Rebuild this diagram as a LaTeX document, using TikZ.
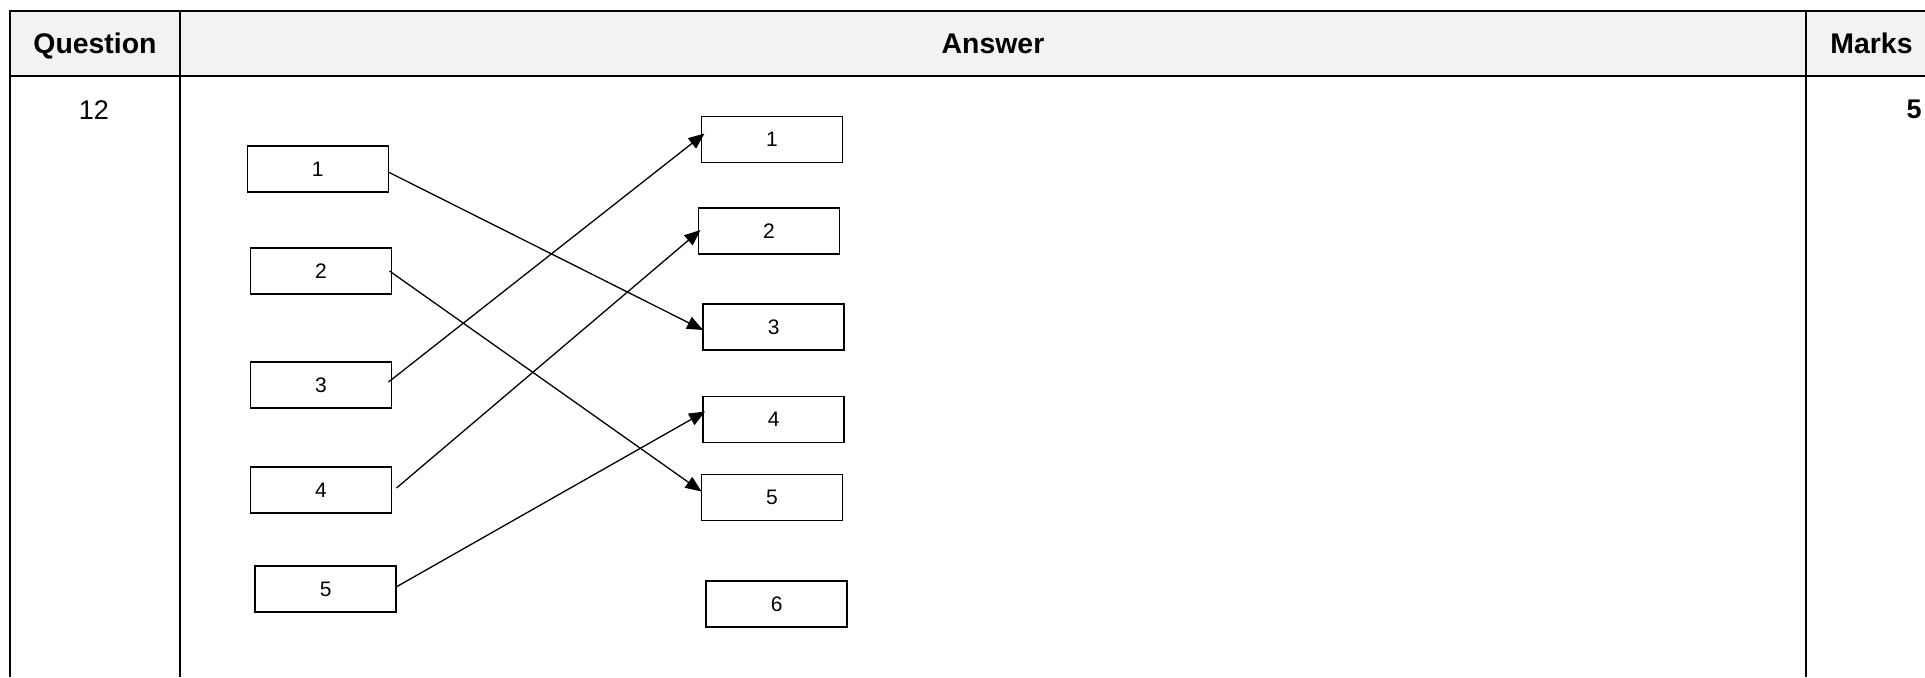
\documentclass[tikz,border=0pt]{standalone}
\usepackage{fontspec}
\setmainfont{Liberation Sans}
\usetikzlibrary{arrows.meta}
\definecolor{hdr}{HTML}{F2F2F2}
\begin{document}
\begin{tikzpicture}[x=0.5pt,y=-0.5pt,
  frame/.style={line width=1.1pt},
  numbox/.style={draw, line width=0.75pt, minimum width=70.5pt, minimum height=23pt, inner sep=0pt, outer sep=0pt, font=\fontsize{10.5}{12}\selectfont},
  link/.style={line width=0.65pt, -{Triangle[length=8pt,width=6.5pt]}},
  hdrtext/.style={font=\fontsize{14.2}{17}\selectfont\bfseries, anchor=base, inner sep=0pt},
  celltext/.style={font=\fontsize{13.5}{16}\selectfont, anchor=base, inner sep=0pt},
]
\useasboundingbox (0,0) rectangle (1925,677);
% table
\fill[hdr] (10,11) rectangle (1925,76);
\draw[frame] (1925,11) -- (10,11) -- (10,677);
\draw[frame] (10,76) -- (1925,76);
\draw[frame] (180,11) -- (180,677);
\draw[frame] (1806,11) -- (1806,677);
% header and cell texts
\node[hdrtext] (qh) at (95,53) {Question};
\node[hdrtext] (ah) at (993,53) {Answer};
\node[hdrtext] (mh) at (1871.5,53) {Marks};
\node[celltext] (qn) at (94,119) {12};
\node[celltext, font=\fontsize{13.5}{16}\selectfont\bfseries, anchor=base east] (mk) at (1922,118) {5};
% left boxes
\node[numbox] (L1) at (317.8,169) {1};
\node[numbox] (L2) at (321,271) {2};
\node[numbox] (L3) at (321,385) {3};
\node[numbox] (L4) at (321,490) {4};
\node[numbox] (L5) at (325.6,589) {5};
% right boxes
\node[numbox] (R1) at (772,139.5) {1};
\node[numbox] (R2) at (769,231) {2};
\node[numbox] (R3) at (773.6,327) {3};
\node[numbox] (R4) at (773.6,419.5) {4};
\node[numbox] (R5) at (772,497.5) {5};
\node[numbox] (R6) at (776.7,604) {6};
% connectors
\draw[link] ([shift={(0,3)}]L1.east) -- ([shift={(0,3)}]R3.west);
\draw[link] ([shift={(-2,0)}]L2.east) -- ([shift={(0,-6)}]R5.west);
\draw[link] ([shift={(-3,-3)}]L3.east) -- ([shift={(3,-6)}]R1.west);
\draw[link] ([shift={(5,-2)}]L4.east) -- ([shift={(2,-1)}]R2.west);
\draw[link] ([shift={(0,-2)}]L5.east) -- ([shift={(2,-8)}]R4.west);
\end{tikzpicture}
\end{document}
